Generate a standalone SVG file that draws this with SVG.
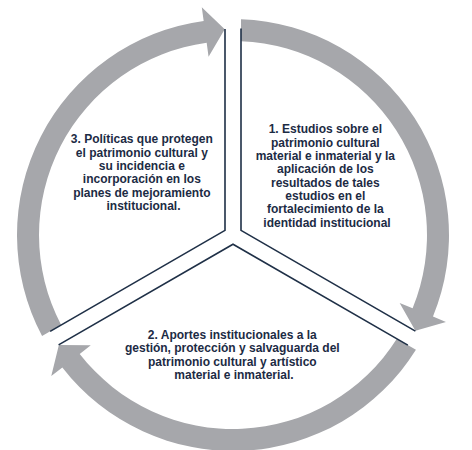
<svg xmlns="http://www.w3.org/2000/svg" xmlns:xlink="http://www.w3.org/1999/xlink" width="472" height="450" viewBox="0 0 472 450">
  <style>
    .arrow { fill: #a6a7ab; stroke: none; }
    .edge { fill: none; stroke: #1f3047; stroke-width: 1.6; stroke-linejoin: miter; }
    .label { font-family: "Liberation Sans", Arial, sans-serif; font-size: 12px; font-weight: 700; fill: #1c2b44; text-anchor: middle; }
  </style>
  <defs>
    <path id="arrowShape" class="arrow" d="M 8,-215.85 A 216 216 0 0 1 199.99,81.61 L 212.95,86.90 L 182.39,95.76 L 166.66,68.01 L 179.62,73.30 A 194 194 0 0 0 8,-193.83 Z"/>
    <path id="edgeShape" class="edge" d="M 8,-206.5 L 8,-4.62 L 182.4,96.07"/>
  </defs>
  <rect width="472" height="450" fill="#ffffff"/>
  <g id="connectors">
    <use href="#arrowShape" transform="translate(233 235)"/>
    <use href="#arrowShape" transform="translate(233 235) rotate(120)"/>
    <use href="#arrowShape" transform="translate(233 235) rotate(240)"/>
  </g>
  <g id="node1">
    <use href="#edgeShape" transform="translate(233 235)"/>
    <text class="label">
      <tspan x="327" y="133.3">1. Estudios sobre el</tspan>
      <tspan x="327" y="146.6">patrimonio cultural</tspan>
      <tspan x="327" y="160">material e inmaterial y la</tspan>
      <tspan x="327" y="173.3">aplicación de los</tspan>
      <tspan x="327" y="186.6">resultados de tales</tspan>
      <tspan x="327" y="200">estudios en el</tspan>
      <tspan x="327" y="213.3">fortalecimiento de la</tspan>
      <tspan x="327" y="226.6">identidad institucional</tspan>
    </text>
  </g>
  <g id="node2">
    <use href="#edgeShape" transform="translate(233 235) rotate(120)"/>
    <text class="label">
      <tspan x="234" y="339">2. Aportes institucionales a la</tspan>
      <tspan x="234" y="352.3">gestión, protección y salvaguarda del</tspan>
      <tspan x="234" y="365.6">patrimonio cultural y artístico</tspan>
      <tspan x="234" y="379">material e inmaterial.</tspan>
    </text>
  </g>
  <g id="node3">
    <use href="#edgeShape" transform="translate(233 235) rotate(240)"/>
    <text class="label">
      <tspan x="143.5" y="143.3">3. Políticas que protegen</tspan>
      <tspan x="143.5" y="156.6">el patrimonio cultural y</tspan>
      <tspan x="143.5" y="170">su incidencia e</tspan>
      <tspan x="143.5" y="183.3">incorporación en los</tspan>
      <tspan x="143.5" y="196.6">planes de mejoramiento</tspan>
      <tspan x="143.5" y="210">institucional.</tspan>
    </text>
  </g>
</svg>
